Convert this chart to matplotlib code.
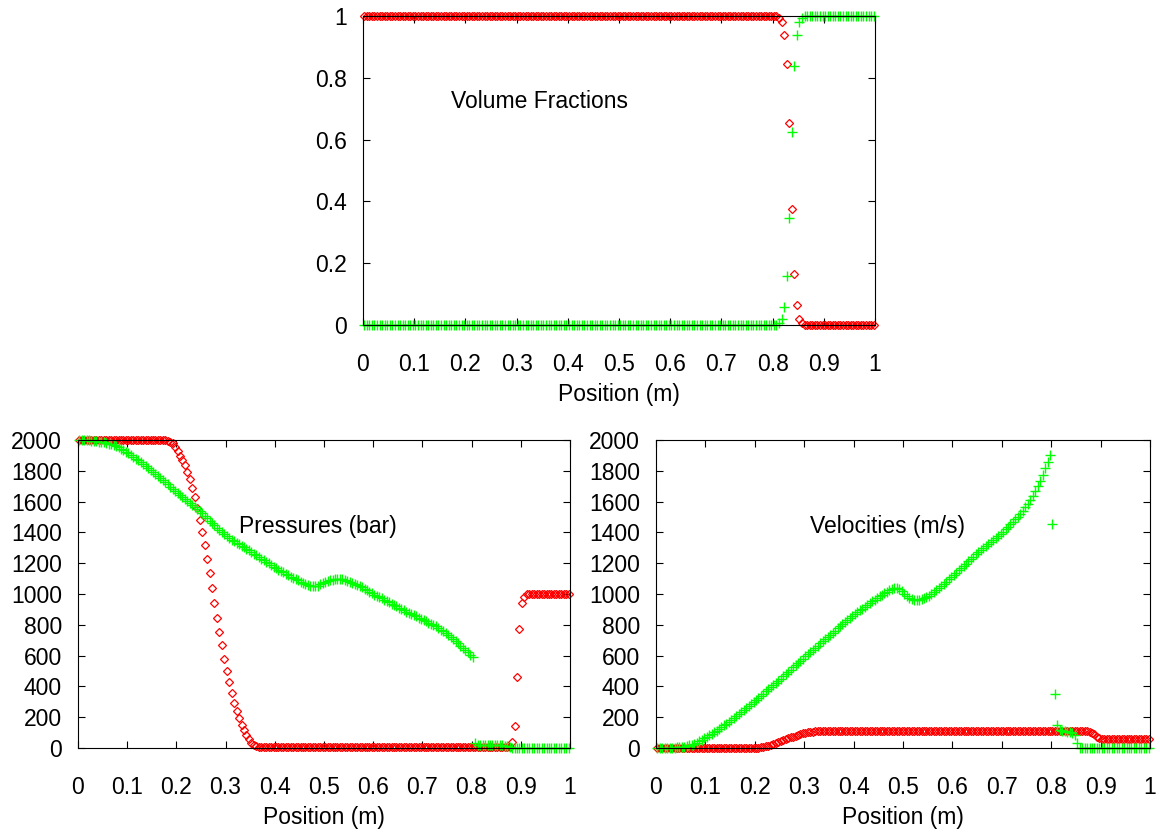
import numpy as np
import matplotlib.pyplot as plt

plt.rcParams['font.family'] = ['Liberation Sans', 'DejaVu Sans']

# cell centres of the 200-cell mesh
position = np.linspace(0.0025, 0.9975, 200)

# volume fractions
alpha_red = [1.0] * 162 + [0.993, 0.98, 0.94, 0.845, 0.655, 0.375, 0.165, 0.065, 0.02, 0.007] + [0.0] * 28
alpha_green = [0.0] * 162 + [0.005, 0.018, 0.059, 0.159, 0.347, 0.625, 0.839, 0.94, 0.98, 0.993] + [1.0] * 28

# pressures (bar)
pressure_red = ([2000] * 35
                + [1998, 1995, 1989, 1978, 1957, 1929, 1898, 1870, 1838, 1794,
                   1747, 1690, 1630, 1560, 1483, 1401, 1318, 1227, 1136, 1039,
                   942, 846, 755, 669, 580, 502, 431, 355, 294, 240,
                   193, 149, 117, 84, 58, 35, 19, 10, 6]
                + [5] * 102
                + [37, 145, 459, 775, 940, 983, 998]
                + [1000] * 17)
pressure_green = ([2000, 2000, 1999, 1998, 1997, 1996, 1994, 1992, 1990, 1987,
                   1985, 1981, 1976, 1971, 1966, 1960, 1952, 1943, 1934, 1925,
                   1915, 1903, 1891, 1879, 1867, 1855, 1843, 1831, 1819, 1807,
                   1795, 1781, 1767, 1753, 1739, 1725, 1711, 1697, 1683, 1669,
                   1655, 1642, 1629, 1616, 1603, 1590, 1577, 1564, 1551, 1538,
                   1525, 1509, 1493, 1477, 1461, 1445, 1431, 1417, 1403, 1389,
                   1375, 1364, 1353, 1343, 1333, 1323, 1313, 1303, 1293, 1283,
                   1273, 1262, 1251, 1240, 1229, 1218, 1208, 1198, 1188, 1178,
                   1168, 1158, 1149, 1140, 1131, 1122, 1113, 1104, 1096, 1088,
                   1080, 1073, 1066, 1060, 1055, 1052, 1051, 1055, 1062, 1069,
                   1075, 1082, 1089, 1094, 1097, 1098, 1099, 1097, 1093, 1087,
                   1080, 1073, 1066, 1059, 1052, 1045, 1035, 1025, 1015, 1005,
                   995, 987, 979, 971, 963, 955, 946, 937, 928, 919,
                   910, 902, 894, 886, 878, 870, 862, 854, 846, 838,
                   830, 822, 814, 806, 798, 790, 779, 768, 757, 746,
                   735, 721, 707, 693, 679, 665, 650, 635, 620, 605,
                   590]
                  + [30, 22, 22, 21, 21, 20, 20, 19, 19, 18, 18, 17, 15, 10, 5]
                  + [0] * 24)

# velocities (m/s)
velocity_red = ([0] * 40
                + [1, 2, 4, 7, 11, 16, 21, 26, 32, 38, 44, 50, 56, 62, 68,
                   74, 80, 86, 91, 95, 99, 102, 104, 106, 107]
                + [108] * 110
                + [106, 100, 88, 74, 62, 56]
                + [55] * 19)
velocity_green = ([0, 0, 0, 1, 1, 1, 2, 3, 4, 5,
                   6, 9, 13, 17, 22, 27, 35, 44, 53, 62,
                   72, 82, 92, 102, 112, 123, 134, 146, 157, 169,
                   181, 194, 207, 220, 233, 246, 259, 272, 285, 298,
                   311, 325, 339, 353, 367, 380, 394, 408, 422, 436,
                   451, 465, 480, 494, 508, 523, 537, 551, 565, 579,
                   594, 608, 622, 636, 650, 665, 679, 693, 707, 721,
                   735, 749, 762, 776, 789, 803, 816, 829, 842, 855,
                   868, 880, 893, 905, 918, 930, 941, 952, 963, 974,
                   985, 995, 1006, 1016, 1026, 1034, 1037, 1036, 1030, 1018,
                   1003, 988, 975, 967, 962, 961, 963, 967, 973, 980,
                   988, 999, 1011, 1023, 1036, 1050, 1065, 1080, 1095, 1110,
                   1125, 1139, 1153, 1167, 1181, 1196, 1211, 1227, 1243, 1259,
                   1275, 1288, 1301, 1314, 1327, 1340, 1353, 1366, 1379, 1392,
                   1405, 1420, 1436, 1452, 1468, 1485, 1503, 1522, 1542, 1563,
                   1585, 1610, 1638, 1668, 1700, 1735, 1775, 1815, 1858, 1905]
                  + [1453, 351, 149, 118, 112, 108, 105, 102, 95, 85, 35]
                  + [0] * 29)

x_ticks = [0, 0.1, 0.2, 0.3, 0.4, 0.5, 0.6, 0.7, 0.8, 0.9, 1]
x_labels = ['0', '0.1', '0.2', '0.3', '0.4', '0.5', '0.6', '0.7', '0.8', '0.9', '1']
frac_ticks = [0, 0.2, 0.4, 0.6, 0.8, 1]
frac_labels = ['0', '0.2', '0.4', '0.6', '0.8', '1']
big_ticks = list(range(0, 2001, 200))

RED = '#ff0000'
GREEN = '#00ff00'
FS = 16.5


def panel(ax, red, green, ymax, yticks, ylabels, title, tx, ty):
    ax.plot(position, red, linestyle='none', marker='D', markersize=3.7,
            mfc='none', mec=RED, mew=0.9, clip_on=False)
    ax.plot(position, green, linestyle='none', marker='+', markersize=6.5,
            mec=GREEN, mew=1.0, clip_on=False)
    ax.set_xlim(0, 1)
    ax.set_ylim(0, ymax)
    ax.set_xticks(x_ticks)
    ax.set_xticklabels(x_labels)
    ax.set_yticks(yticks)
    ax.set_yticklabels(ylabels)
    ax.tick_params(direction='in', length=5, width=0.8, top=True, right=True,
                   labelsize=FS)
    ax.tick_params(axis='x', pad=20)
    ax.tick_params(axis='y', pad=11.5)
    for s in ax.spines.values():
        s.set_linewidth(0.8)
    ax.set_xlabel('Position (m)', fontsize=FS, labelpad=5)
    ax.text(tx, ty, title, fontsize=FS, ha='center', va='center')


fig = plt.figure(figsize=(11.6, 8.36), dpi=100)
ax_top = fig.add_axes([0.3129, 0.6112, 0.4414, 0.3696])
ax_p = fig.add_axes([0.0672, 0.1053, 0.4241, 0.3684])
ax_v = fig.add_axes([0.5655, 0.1053, 0.4259, 0.3684])

panel(ax_top, alpha_red, alpha_green, 1, frac_ticks, frac_labels,
      'Volume Fractions', 0.344, 0.725)
panel(ax_p, pressure_red, pressure_green, 2000, big_ticks, [str(t) for t in big_ticks],
      'Pressures (bar)', 0.488, 1435)
panel(ax_v, velocity_red, velocity_green, 2000, big_ticks, [str(t) for t in big_ticks],
      'Velocities (m/s)', 0.468, 1435)

fig.savefig('out.png', dpi=100)
